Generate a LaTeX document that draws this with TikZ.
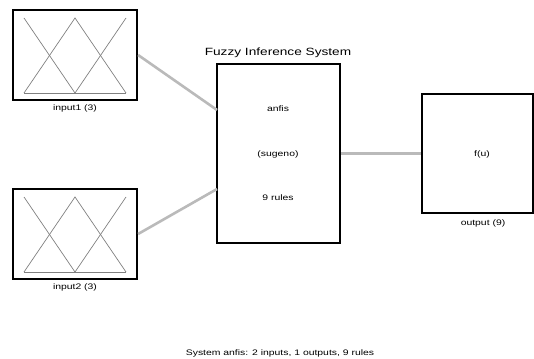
\documentclass[tikz,border=0pt]{standalone}
\usepackage{fontspec}
\setmainfont{Liberation Sans}
\newfontfamily\fisfont{Liberation Sans}[FakeStretch=1.3]
\usetikzlibrary{positioning}
\tikzset{
	block/.style={
		draw,
		line width = 2.2pt,
		shape = rectangle,
		inner sep = 0pt
	},
	wire/.style={
		line width = 2.6pt,
		draw = black!27
	},
	mf/.style={
		line width = 0.7pt,
		draw = black!50
	},
	lbl/.style={
		font = \fisfont\fontsize{8}{9}\selectfont,
		inner sep = 0pt
	},
}

\begin{document}
\begin{tikzpicture}[x=1pt, y=-1pt]
    \useasboundingbox (0,0) rectangle (534,358);
    \node[block, minimum width=124pt, minimum height=90pt] (in1) at (75,55) {};
    \node[block, minimum width=124pt, minimum height=90pt] (in2) at (75,234) {};
    \node[block, minimum width=123pt, minimum height=179pt] (fis) at (278.5,153.5) {};
    \node[block, minimum width=111pt, minimum height=119pt] (out) at (477.5,153.5) {};
    \foreach \b in {in1, in2}{
      \begin{scope}[shift={(\b.center)}]
        \draw[mf] (-51,-37) -- (0,38);
        \draw[mf] (-51,38) -- (0,-37) -- (51,38);
        \draw[mf] (0,38) -- (51,-37);
        \draw[mf] (-51,38) -- (51,38);
      \end{scope}
    }
    \node[lbl] (in1lbl) at (75,108) {input1 (3)};
    \node[lbl] (in2lbl) at (75,287) {input2 (3)};
    \node[lbl, font=\fisfont\fontsize{10.5}{12}\selectfont] (fislbl) at (278,53) {Fuzzy Inference System};
    \node[lbl] (fisname) at (278,109) {anfis};
    \node[lbl] (fistype) at (278,154) {(sugeno)};
    \node[lbl] (fisrules) at (278,198) {9 rules};
    \node[lbl] (fu) at (482,154) {f(u)};
    \node[lbl] (outlbl) at (483,223) {output (9)};
    \node[lbl] (summary) at (280,353) {System anfis: 2 inputs, 1 outputs, 9 rules};
    % connections
    \coordinate (fisin1) at (217,110);
    \coordinate (fisin2) at (217,189);
    \draw[wire] (in1.east) -- (fisin1);
    \draw[wire] (in2.east) -- (fisin2);
    \draw[wire] (fis.east) -- (out.west);
  \end{tikzpicture}
\end{document}
